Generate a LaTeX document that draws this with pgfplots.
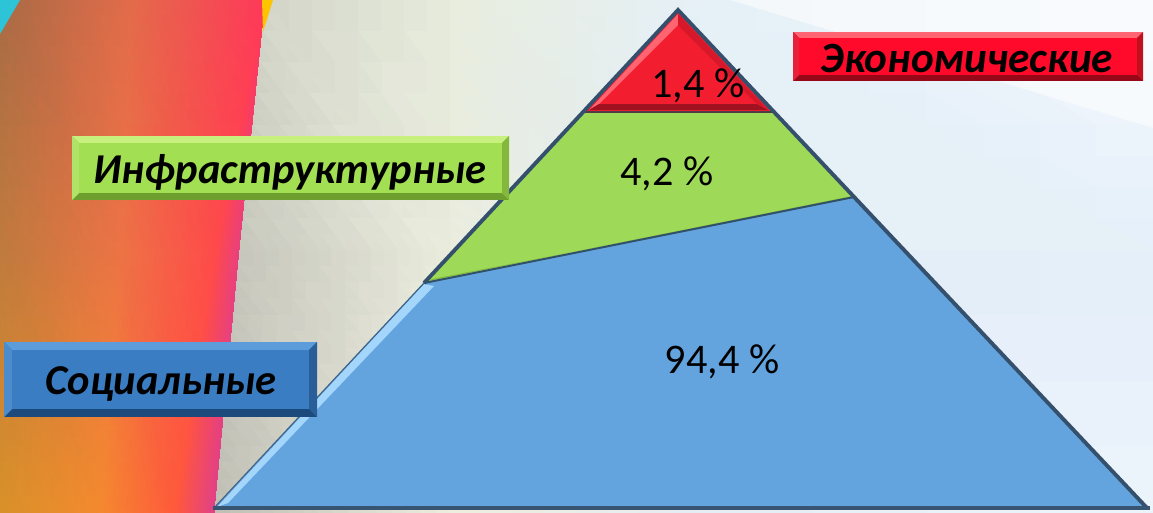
\documentclass[border=0pt]{standalone}
\usepackage{fontspec}
\setmainfont{Carlito}
\usepackage{pgfplots}
\pgfplotsset{compat=1.18}

\definecolor{pyrRed}{HTML}{F21E30}
\definecolor{pyrGreen}{HTML}{9ED957}
\definecolor{pyrBlue}{HTML}{63A4DF}
\definecolor{edgeDark}{HTML}{34506C}
\definecolor{edgeLight}{HTML}{A4D6FC}

\begin{document}
\begin{tikzpicture}
\begin{axis}[
  scale only axis, width=11.53cm, height=5.12cm,
  xmin=0, xmax=1153, ymin=0, ymax=512, y dir=reverse,
  hide axis, clip=true,
]
% background, as triangles with a colour at each corner
\addplot[patch, shader=interp, mesh/color input=explicit, point meta=explicit symbolic]
  table[meta=c] {
x y c
0 0 rgb=0.66,0.42,0.27
130 0 rgb=0.89,0.42,0.29
120 250 rgb=0.93,0.45,0.27
0 0 rgb=0.66,0.42,0.27
120 250 rgb=0.93,0.45,0.27
0 250 rgb=0.75,0.48,0.24
130 0 rgb=0.89,0.42,0.29
266 0 rgb=1,0.22,0.35
215 250 rgb=1,0.29,0.29
130 0 rgb=0.89,0.42,0.29
215 250 rgb=1,0.29,0.29
120 250 rgb=0.93,0.45,0.27
266 0 rgb=1,0.22,0.35
240 250 rgb=0.91,0.25,0.50
215 250 rgb=1,0.29,0.29
0 250 rgb=0.75,0.48,0.24
120 250 rgb=0.93,0.45,0.27
100 512 rgb=0.96,0.54,0.18
0 250 rgb=0.75,0.48,0.24
100 512 rgb=0.96,0.54,0.18
0 512 rgb=0.85,0.57,0.16
120 250 rgb=0.93,0.45,0.27
215 250 rgb=1,0.29,0.29
175 512 rgb=1,0.35,0.23
120 250 rgb=0.93,0.45,0.27
175 512 rgb=1,0.35,0.23
100 512 rgb=0.96,0.54,0.18
215 250 rgb=1,0.29,0.29
240 250 rgb=0.91,0.25,0.50
215 512 rgb=0.88,0.25,0.54
215 250 rgb=1,0.29,0.29
215 512 rgb=0.88,0.25,0.54
175 512 rgb=1,0.35,0.23
266 0 rgb=0.83,0.84,0.79
450 0 rgb=0.91,0.93,0.87
450 250 rgb=0.92,0.93,0.87
266 0 rgb=0.83,0.84,0.79
450 250 rgb=0.92,0.93,0.87
240 250 rgb=0.78,0.78,0.74
240 250 rgb=0.78,0.78,0.74
450 250 rgb=0.92,0.93,0.87
450 512 rgb=0.93,0.93,0.88
240 250 rgb=0.78,0.78,0.74
450 512 rgb=0.93,0.93,0.88
215 512 rgb=0.75,0.75,0.71
450 0 rgb=0.91,0.93,0.87
700 0 rgb=0.90,0.94,0.97
700 250 rgb=0.89,0.93,0.97
450 0 rgb=0.91,0.93,0.87
700 250 rgb=0.89,0.93,0.97
450 250 rgb=0.92,0.93,0.87
450 250 rgb=0.92,0.93,0.87
700 250 rgb=0.89,0.93,0.97
700 512 rgb=0.90,0.93,0.96
450 250 rgb=0.92,0.93,0.87
700 512 rgb=0.90,0.93,0.96
450 512 rgb=0.93,0.93,0.88
700 0 rgb=0.90,0.94,0.97
1153 0 rgb=0.96,0.97,0.99
1153 250 rgb=0.90,0.94,0.98
700 0 rgb=0.90,0.94,0.97
1153 250 rgb=0.90,0.94,0.98
700 250 rgb=0.89,0.93,0.97
700 250 rgb=0.89,0.93,0.97
1153 250 rgb=0.90,0.94,0.98
1153 512 rgb=0.93,0.96,0.99
700 250 rgb=0.89,0.93,0.97
1153 512 rgb=0.93,0.96,0.99
700 512 rgb=0.90,0.93,0.96
};
% lighter band top right, teal corner, yellow sliver
\addplot[fill=white, fill opacity=0.55, draw=none] coordinates {(730,0)(1153,0)(1153,128)} -- cycle;
\addplot[fill={rgb,255:red,46;green,196;blue,216}, draw=none] coordinates {(0,0)(20,0)(0,34)} -- cycle;
\addplot[fill={rgb,255:red,255;green,196;blue,0}, draw=none] coordinates {(262,0)(273,0)(263,32)} -- cycle;

% pyramid
\addplot[fill=pyrBlue, draw=none] coordinates {(424,283)(854,197)(1147,508)(215,508)} -- cycle;
\addplot[fill=pyrGreen, draw=none] coordinates {(585,112)(772,112)(854,197)(424,283)} -- cycle;
\addplot[fill=pyrRed, draw=none] coordinates {(678,12)(772,112)(585,112)} -- cycle;
% bevels of the top section
\addplot[fill={rgb,255:red,255;green,100;blue,112}, draw=none] coordinates {(678,14)(589,110)(599,104)(678,25)} -- cycle;
\addplot[fill={rgb,255:red,160;green,18;blue,32}, draw=none] coordinates {(589,110)(768,110)(757,104)(599,104)} -- cycle;
\addplot[fill={rgb,255:red,215;green,24;blue,42}, draw=none] coordinates {(678,14)(768,110)(757,104)(678,25)} -- cycle;
% bevel of the middle section and the light edge of the bottom one
\addplot[fill={rgb,255:red,128;green,186;blue,66}, draw=none] coordinates {(432,279)(848,199)(852,196)(428,281)} -- cycle;
\addplot[fill=edgeLight, draw=none] coordinates {(424,284)(434,286)(228,503)(217,507)} -- cycle;
\addplot[draw={rgb,255:red,80;green,60;blue,70}, line width=0.45pt] coordinates {(585,112)(772,112)};
\addplot[draw={rgb,255:red,50;green,80;blue,105}, line width=0.55pt] coordinates {(424,283)(854,197)};
\addplot[draw={rgb,255:red,60;green,100;blue,140}, line width=0.35pt] coordinates {(424,283)(214,508)};
\addplot[draw=edgeDark, line width=1.1pt] coordinates {(424,283)(678,10)(1147,508)};
\addplot[draw={rgb,255:red,55;green,85;blue,115}, line width=1.1pt] coordinates {(213,508)(1150,508)};

% label boxes with bevelled edges
\addplot[fill={rgb,255:red,150;green,8;blue,24}, draw=none] coordinates {(793,32)(1143,32)(1143,81)(793,81)} -- cycle;
\addplot[fill={rgb,255:red,255;green,100;blue,115}, draw=none] coordinates {(793,32)(1143,32)(1137,38)(799,38)} -- cycle;
\addplot[fill={rgb,255:red,232;green,32;blue,58}, draw=none] coordinates {(793,32)(799,38)(799,75)(793,81)} -- cycle;
\addplot[fill={rgb,255:red,192;green,16;blue,30}, draw=none] coordinates {(1143,32)(1143,81)(1137,75)(1137,38)} -- cycle;
\addplot[fill={rgb,255:red,255;green,10;blue,42}, draw=none] coordinates {(799,38)(1137,38)(1137,75)(799,75)} -- cycle;

\addplot[fill={rgb,255:red,110;green,158;blue,46}, draw=none] coordinates {(72,136)(509,136)(509,200)(72,200)} -- cycle;
\addplot[fill={rgb,255:red,200;green,240;blue,126}, draw=none] coordinates {(72,136)(509,136)(502,143)(79,143)} -- cycle;
\addplot[fill={rgb,255:red,176;green,228;blue,104}, draw=none] coordinates {(72,136)(79,143)(79,193)(72,200)} -- cycle;
\addplot[fill={rgb,255:red,132;green,184;blue,60}, draw=none] coordinates {(509,136)(509,200)(502,193)(502,143)} -- cycle;
\addplot[fill={rgb,255:red,162;green,223;blue,82}, draw=none] coordinates {(79,143)(502,143)(502,193)(79,193)} -- cycle;

\addplot[fill={rgb,255:red,28;green,74;blue,124}, draw=none] coordinates {(4,342)(317,342)(317,417)(4,417)} -- cycle;
\addplot[fill={rgb,255:red,92;green,156;blue,218}, draw=none] coordinates {(4,342)(317,342)(309,350)(12,350)} -- cycle;
\addplot[fill={rgb,255:red,76;green,140;blue,204}, draw=none] coordinates {(4,342)(12,350)(12,409)(4,417)} -- cycle;
\addplot[fill={rgb,255:red,42;green,94;blue,152}, draw=none] coordinates {(317,342)(317,417)(309,409)(309,350)} -- cycle;
\addplot[fill={rgb,255:red,58;green,125;blue,195}, draw=none] coordinates {(12,350)(309,350)(309,409)(12,409)} -- cycle;

% texts
\node[anchor=base, font=\fontsize{12}{14}\selectfont] at (axis cs:698,97) {1,4 \%};
\node[anchor=base, font=\fontsize{12}{14}\selectfont] at (axis cs:667,185) {4,2 \%};
\node[anchor=base, font=\fontsize{12}{14}\selectfont] at (axis cs:722,373) {94,4 \%};
\node[anchor=base, font=\fontsize{12.3}{14}\selectfont\bfseries\itshape] at (axis cs:967,72) {Экономические};
\node[anchor=base, font=\fontsize{12.1}{14}\selectfont\bfseries\itshape] at (axis cs:290,183) {Инфраструктурные};
\node[anchor=base, font=\fontsize{12.1}{14}\selectfont\bfseries\itshape] at (axis cs:161,394) {Социальные};
\end{axis}
\end{tikzpicture}
\end{document}
